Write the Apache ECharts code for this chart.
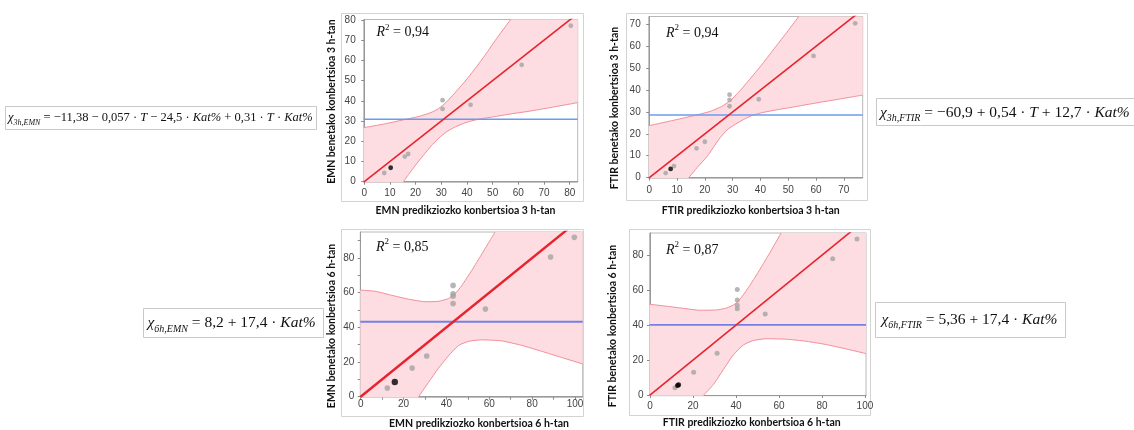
<!DOCTYPE html>
<html><head><meta charset="utf-8">
<script src="https://cdn.jsdelivr.net/npm/echarts@6/dist/echarts.min.js"></script>
<style>html,body{margin:0;padding:0;background:#fff}#c{width:1134px;height:430px}</style>
</head><body><div id="c"></div>
<script>
// ---------- data ----------
// Panel 1: EMN 3 h
const p1Grey  = [[7.8,4.3],[15.8,12.4],[17.1,13.7],[30.5,40.3],[30.5,36.0],[41.4,38.0],[61.3,57.8],[80.4,77.1]];
const p1Black = [[10.3,6.9]];
const p1Mean  = 30.9;
const p1Upper = [[-0.2,26.7],[8,28.6],[16,30.8],[22,32.5],[26,34.2],[29,36.2],[32,39.4],[35,43.5],[38,47.8],[42,54.0],[47,62.5],[52,71.6],[57,80.2]];
const p1Lower = [[83.1,39.1],[74,37.0],[65,35.0],[57,33.5],[50,32.0],[45,31.0],[41,29.8],[38,28.5],[35,26.8],[32,24.6],[29,21.5],[26,17.6],[23,13.0],[20,8.2],[17.5,4.0],[15.3,0]];
const p1XTicks = [0,10,20,30,40,50,60,70,80];
const p1YTicks = [0,10,20,30,40,50,60,70,80];

// Panel 2: FTIR 3 h
const p2Grey  = [[5.9,2.1],[8.9,5.3],[17.0,13.4],[20.0,16.4],[28.9,37.9],[28.9,35.5],[28.9,32.6],[39.4,35.8],[59.1,55.6],[74.1,70.5]];
const p2Black = [[7.7,4.0]];
const p2Mean  = 28.6;
const p2Upper = [[-0.2,23.7],[8,26.0],[16,28.3],[22,30.3],[26,32.5],[29,35.0],[32,38.8],[35,43.2],[40,50.8],[45,59.0],[50,67.2],[53.8,73.6]];
const p2Lower = [[76.8,37.7],[68,35.8],[60,34.1],[52,32.3],[46,31.0],[41,29.8],[37,28.4],[34,26.6],[31,24.4],[28,21.8],[25,17.4],[21,10.0],[17.5,5.0],[14.2,0]];
const p2XTicks = [0,10,20,30,40,50,60,70];
const p2YTicks = [0,10,20,30,40,50,60,70];

// Panel 3: EMN 6 h
const p3Grey  = [[12.4,5.0],[24.0,16.5],[30.8,23.5],[43.1,64.2],[43.1,59.3],[43.1,58.0],[43.1,53.7],[58.2,50.6],[88.6,80.6],[99.7,91.9]];
const p3Black = [[15.9,8.5]];
const p3Mean  = 43.3;
const p3Upper = [[-0.2,61.5],[6.7,60.8],[14.5,58.5],[22.2,56.3],[30.0,54.8],[36.2,55.0],[40.9,56.6],[44.0,59.4],[47.1,64.0],[51.8,72.8],[56.5,82.3],[61.0,91.5],[62.7,95.0]];
const p3Lower = [[103.6,18.9],[93.8,22.6],[84.4,26.2],[75.1,29.6],[65.8,32.2],[56.5,32.8],[50.2,31.9],[45.6,29.5],[40.9,23.5],[36.2,16.3],[31.6,8.2],[27.0,0]];
const p3XTicks = [0,10,20,30,40,50,60,70,80,90,100];
const p3XLabels = [0,20,40,60,80,100];
const p3YTicks = [0,10,20,30,40,50,60,70,80,90];
const p3YLabels = [0,20,40,60,80];

// Panel 4: FTIR 6 h
const p4Grey  = [[11.6,4.2],[20.3,13.0],[31.2,23.9],[40.6,60.3],[40.6,54.4],[40.6,51.3],[40.6,49.4],[53.6,46.4],[85.0,77.9],[96.3,89.3]];
const p4Black = [[12.8,5.4],[13.3,5.9]];
const p4Mean  = 40.1;
const p4Upper = [[-0.2,51.9],[7.8,50.8],[15.5,49.6],[23.3,48.5],[31.0,48.7],[35.7,49.8],[39.5,52.0],[42.6,56.0],[46.5,62.8],[51.2,72.0],[55.8,81.5],[61.0,92.7]];
const p4Lower = [[100.5,23.7],[91.5,26.3],[82.2,28.8],[72.9,30.7],[63.6,31.9],[54.3,32.2],[48.1,31.2],[43.4,28.6],[38.8,23.0],[34.1,14.5],[29.5,6.0],[25.0,0]];
const p4XTicks = [0,20,40,60,80,100];
const p4YTicks = [0,20,40,60,80];

// ---------- styles ----------
const BAND_FILL = '#fddde2';
const BAND_EDGE = '#f28d98';
const RED = '#e8232d';
const GREY_PT = '#a4a4a4';
const AXIS_FONT = 'Liberation Sans';
const NAME_FONT = 'Lato';
const MATH_FONT = 'Liberation Serif';

const panels = [
  {grid:{left:363.7, top:19.5, width:214, height:162.8}, x:[-0.2,83.1], y:[-0.3,80.2],
   xt:p1XTicks, xl:p1XTicks, yt:p1YTicks, yl:p1YTicks, xm:6, ym:8,
   grey:p1Grey, black:p1Black, mean:p1Mean, upper:p1Upper, lower:p1Lower,
   blue:'#6b9bf0', blueW:1.5, redW:1.6, ps:4.8, bs:4.8},
  {grid:{left:648.7, top:16.5, width:214, height:161.8}, x:[-0.2,76.8], y:[-0.3,73.6],
   xt:p2XTicks, xl:p2XTicks, yt:p2YTicks, yl:p2YTicks, xm:7, ym:8,
   grey:p2Grey, black:p2Black, mean:p2Mean, upper:p2Upper, lower:p2Lower,
   blue:'#6b9bf0', blueW:1.6, redW:1.6, ps:4.8, bs:4.8},
  {grid:{left:360.3, top:232, width:222.4, height:165.4}, x:[-0.2,103.6], y:[-0.4,95.0],
   xt:p3XTicks, xl:p3XLabels, yt:p3YTicks, yl:p3YLabels, xm:2, ym:6,
   grey:p3Grey, black:p3Black, mean:p3Mean, upper:p3Upper, lower:p3Lower,
   blue:'#7480e4', blueW:2, redW:2.4, ps:5.6, bs:6.4},
  {grid:{left:649.6, top:233, width:216.4, height:162.7}, x:[-0.2,100.5], y:[-0.4,92.7],
   xt:p4XTicks, xl:p4XTicks, yt:p4YTicks, yl:p4YTicks, xm:6, ym:6,
   grey:p4Grey, black:p4Black, mean:p4Mean, upper:p4Upper, lower:p4Lower,
   blue:'#7480e4', blueW:1.8, redW:1.6, ps:5.0, bs:5.0}
];

const grids = [], xAxes = [], yAxes = [], series = [];
panels.forEach((P, i) => {
  grids.push(Object.assign({show:true, borderColor:'#b8b8b8', borderWidth:1, backgroundColor:'#fff'}, P.grid));
  const common = (ticks, labels, margin) => ({
    axisLine:{show:true, lineStyle:{color:'#9a9a9a', width:1}},
    axisTick:{show:true, length:3, lineStyle:{color:'#8a8a8a'}, customValues:ticks},
    axisLabel:{fontSize:10, color:'#444', fontFamily:AXIS_FONT, margin:margin, customValues:labels},
    splitLine:{show:false}
  });
  xAxes.push(Object.assign({type:'value', gridIndex:i, min:P.x[0], max:P.x[1]}, common(P.xt, P.xl, P.xm)));
  yAxes.push(Object.assign({type:'value', gridIndex:i, min:P.y[0], max:P.y[1]}, common(P.yt, P.yl, P.ym)));

  const poly = P.upper.concat([[P.x[1], P.y[1]]], P.lower,
                 [[P.lower[P.lower.length-1][0], P.y[0]], [P.x[0], P.y[0]]]);
  series.push({type:'custom', xAxisIndex:i, yAxisIndex:i, silent:true, z:1,
    data:[[P.x[0], P.y[0]]],
    renderItem:(params, api) => ({type:'polygon', shape:{points: poly.map(p => api.coord(p))},
                                  style:{fill:BAND_FILL}})});
  [P.upper, P.lower].forEach(curve => series.push({type:'line', xAxisIndex:i, yAxisIndex:i, data:curve,
    smooth:0.2, symbol:'none', silent:true, z:2, lineStyle:{color:BAND_EDGE, width:1}}));
  series.push({type:'line', xAxisIndex:i, yAxisIndex:i, data:[[P.x[0], P.mean],[P.x[1], P.mean]],
    symbol:'none', silent:true, z:3, lineStyle:{color:P.blue, width:P.blueW}});
  series.push({type:'line', xAxisIndex:i, yAxisIndex:i, data:[[P.x[0], P.x[0]],[P.x[1], P.x[1]]],
    symbol:'none', silent:true, z:4, lineStyle:{color:RED, width:P.redW}});
  series.push({type:'scatter', xAxisIndex:i, yAxisIndex:i, data:P.grey, symbolSize:P.ps, z:5,
    itemStyle:{color:GREY_PT}});
  series.push({type:'scatter', xAxisIndex:i, yAxisIndex:i, data:P.black, symbolSize:P.bs, z:6,
    itemStyle:{color:'#000'}});
});

// ---------- texts ----------
function mathRich(sz) {
  return {
    v:{fontFamily:MATH_FONT, fontStyle:'italic', fontSize:sz, lineHeight:sz+6, fill:'#111', verticalAlign:'middle'},
    n:{fontFamily:MATH_FONT, fontSize:sz, lineHeight:sz+6, fill:'#111', verticalAlign:'middle'},
    s:{fontFamily:MATH_FONT, fontStyle:'italic', fontSize:Math.round(sz*0.62), lineHeight:Math.round(sz*0.62)+1, fill:'#111', verticalAlign:'bottom'},
    sup:{fontFamily:MATH_FONT, fontSize:Math.round(sz*0.65), lineHeight:Math.round(sz*0.65)+1, fill:'#111', verticalAlign:'top'}
  };
}
function eq(x, y, sz, text) {
  return {type:'text', x:x, y:y, z:10, style:{text:text, rich:mathRich(sz), align:'left', verticalAlign:'middle'}};
}
function box(x, y, w, h) {
  return {type:'rect', z:9, shape:{x:x, y:y, width:w, height:h}, style:{fill:'#fff', stroke:'#c9c9c9', lineWidth:1}};
}
function frame(x, y, w, h) {
  return {type:'rect', z:0, shape:{x:x, y:y, width:w, height:h}, style:{fill:'none', stroke:'#d3d3d3', lineWidth:1}};
}
function axName(x, y, text, rot) {
  return {type:'text', x:x, y:y, rotation:rot ? Math.PI/2 : 0, z:10,
    style:{text:text, fontFamily:NAME_FONT, fontWeight:'bold', fontSize:10.5, fill:'#111', align:'center', verticalAlign:'middle'}};
}

const graphics = [
  frame(341.5, 13.5, 242, 188), frame(626.5, 13.5, 241, 187),
  frame(341.5, 229.5, 242, 187), frame(629.5, 229.5, 241, 186),
  box(5.5, 106.5, 311, 23), box(876.5, 98.5, 262, 27), box(143.5, 308.5, 180, 29), box(875.5, 302.5, 190, 35),
  eq(8, 118, 12.5, '{v|χ}{s|3h,EMN}{n| = −11,38 − 0,057 · }{v|T}{n| − 24,5 · }{v|Kat%}{n| + 0,31 · }{v|T}{n| · }{v|Kat%}'),
  eq(880, 112.5, 15.5, '{v|χ}{s|3h,FTIR}{n| = −60,9 + 0,54 · }{v|T}{n| + 12,7 · }{v|Kat%}'),
  eq(147.5, 323.3, 15.5, '{v|χ}{s|6h,EMN}{n| = 8,2 + 17,4 · }{v|Kat%}'),
  eq(881.5, 320, 15.5, '{v|χ}{s|6h,FTIR}{n| = 5,36 + 17,4 · }{v|Kat%}'),
  eq(376.5, 32.7, 14, '{v|R}{sup|2}{n| = 0,94}'),
  eq(666, 33.3, 14, '{v|R}{sup|2}{n| = 0,94}'),
  eq(376, 247, 14, '{v|R}{sup|2}{n| = 0,85}'),
  eq(666, 250, 14, '{v|R}{sup|2}{n| = 0,87}'),
  axName(331.7, 101.6, 'EMN benetako konbertsioa 3 h-tan', true),
  axName(465.5, 211, 'EMN predikziozko konbertsioa 3 h-tan', false),
  axName(615, 108, 'FTIR benetako konbertsioa 3 h-tan', true),
  axName(750.8, 210.7, 'FTIR predikziozko konbertsioa 3 h-tan', false),
  axName(331.7, 326, 'EMN benetako konbertsioa 6 h-tan', true),
  axName(479, 423.3, 'EMN predikziozko konbertsioa 6 h-tan', false),
  axName(612.7, 326, 'FTIR benetako konbertsioa 6 h-tan', true),
  axName(751.7, 422.7, 'FTIR predikziozko konbertsioa 6 h-tan', false)
];

const chart = echarts.init(document.getElementById('c'), null, {renderer:'canvas'});
chart.setOption({
  animation:false,
  backgroundColor:'#fff',
  grid:grids, xAxis:xAxes, yAxis:yAxes, series:series,
  graphic:{elements:graphics}
});
</script></body></html>
